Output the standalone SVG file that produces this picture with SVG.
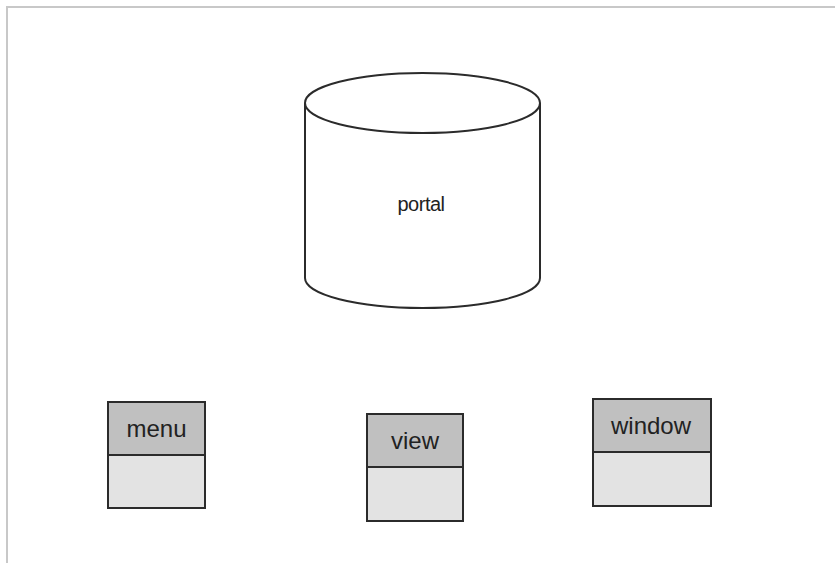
<svg xmlns="http://www.w3.org/2000/svg" width="835" height="563" viewBox="0 0 835 563">
  <style>
    .frame { fill: #ffffff; stroke: #c8c8c8; stroke-width: 2; }
    .shape { stroke: #2b2b2b; stroke-width: 2; }
    .head { fill: #c0c0c0; }
    .body { fill: #e3e3e3; }
    .label { font-family: "Liberation Sans", Arial, sans-serif; fill: #222222; text-anchor: middle; }
  </style>
  <rect width="835" height="563" fill="#ffffff"/>
  <!-- page frame -->
  <path class="frame" d="M7,572 L7,7 L845,7"/>

  <g id="portal">
    <path class="shape" fill="#ffffff" d="M305,103 L305,278 A117.5,30 0 0 0 540,278 L540,103"/>
    <ellipse class="shape" fill="#ffffff" cx="422.5" cy="103" rx="117.5" ry="30"/>
    <text class="label" x="421" y="211" font-size="20" letter-spacing="-0.5">portal</text>
  </g>

  <g id="menu">
    <rect class="shape head" x="108" y="402" width="97" height="53"/>
    <rect class="shape body" x="108" y="455" width="97" height="53"/>
    <text class="label" x="156.5" y="437" font-size="24">menu</text>
  </g>

  <g id="view">
    <rect class="shape head" x="367" y="414" width="96" height="53"/>
    <rect class="shape body" x="367" y="467" width="96" height="54"/>
    <text class="label" x="415" y="449" font-size="24">view</text>
  </g>

  <g id="window">
    <rect class="shape head" x="593" y="399" width="118" height="53"/>
    <rect class="shape body" x="593" y="452" width="118" height="54"/>
    <text class="label" x="651" y="434" font-size="24">window</text>
  </g>

  <g id="connectors"/>
</svg>
